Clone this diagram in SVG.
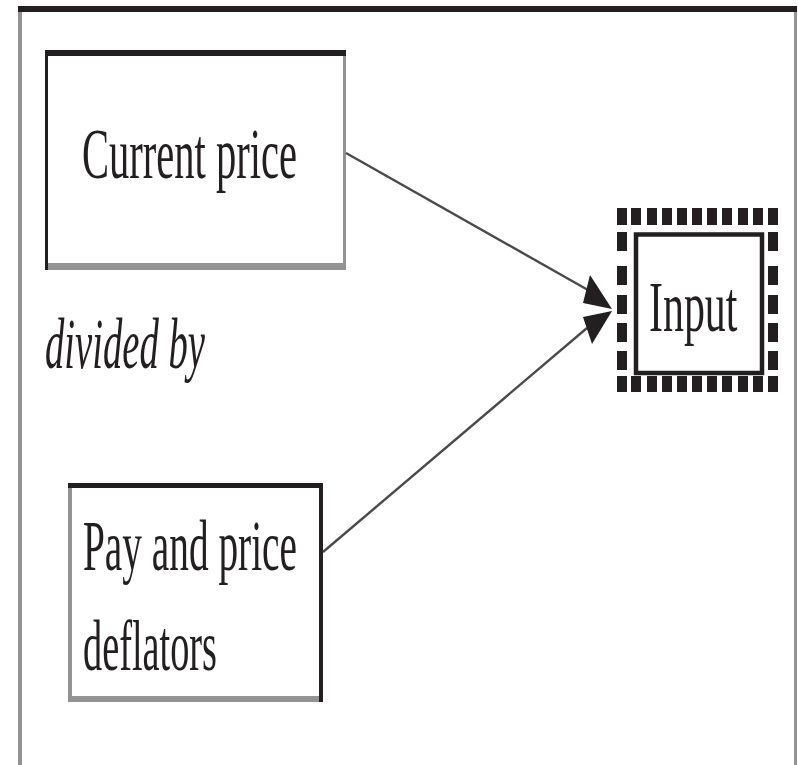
<svg xmlns="http://www.w3.org/2000/svg" width="798" height="765" viewBox="0 0 798 765">
<style>
.k{fill:#231f20}
.g{fill:#939393}
.t{font-family:"Liberation Serif","Times New Roman",serif;font-size:72px;fill:#231f20}
.it{font-style:italic}
.ln{stroke:#4a4a4a;stroke-width:2.4;fill:none}
</style>
<rect width="798" height="765" fill="#ffffff"/>
<g id="frame">
<rect class="k" x="18" y="6" width="779" height="6"/>
<rect class="g" x="18" y="12" width="4" height="753"/>
<rect class="g" x="794" y="12" width="3" height="753"/>
</g>
<g id="node-current">
<rect class="k" x="45" y="50" width="301" height="6"/>
<rect class="k" x="45" y="50" width="3" height="220"/>
<rect class="g" x="343" y="56" width="3" height="214"/>
<rect class="g" x="48" y="263" width="295" height="7"/>
<text class="t" x="82" y="178" textLength="215" lengthAdjust="spacingAndGlyphs">Current price</text>
</g>
<g id="label-divided">
<text class="t it" x="45" y="368" textLength="160" lengthAdjust="spacingAndGlyphs">divided by</text>
</g>
<g id="node-pay">
<rect class="k" x="68" y="483" width="255" height="5"/>
<rect class="g" x="68" y="488" width="4" height="214"/>
<rect class="k" x="319" y="483" width="4" height="219"/>
<rect class="g" x="68" y="696" width="251" height="6"/>
<text class="t" x="83" y="570" textLength="214" lengthAdjust="spacingAndGlyphs">Pay and price</text>
<text class="t" x="83" y="670" textLength="134" lengthAdjust="spacingAndGlyphs">deflators</text>
</g>
<g id="node-input">
<g class="k">
<rect x="617" y="208" width="10" height="17"/><rect x="631" y="208" width="10" height="17"/><rect x="647" y="208" width="10" height="17"/><rect x="662" y="208" width="10" height="17"/><rect x="677" y="208" width="10" height="17"/><rect x="692" y="208" width="10" height="17"/><rect x="707" y="208" width="10" height="17"/><rect x="722" y="208" width="10" height="17"/><rect x="738" y="208" width="10" height="17"/><rect x="753" y="208" width="10" height="17"/><rect x="768" y="208" width="10" height="17"/>
<rect x="617" y="376" width="10" height="16"/><rect x="631" y="376" width="10" height="16"/><rect x="647" y="376" width="10" height="16"/><rect x="662" y="376" width="10" height="16"/><rect x="677" y="376" width="10" height="16"/><rect x="692" y="376" width="10" height="16"/><rect x="707" y="376" width="10" height="16"/><rect x="722" y="376" width="10" height="16"/><rect x="738" y="376" width="10" height="16"/><rect x="753" y="376" width="10" height="16"/><rect x="768" y="376" width="10" height="16"/>
<rect x="617" y="232" width="10" height="19"/><rect x="617" y="266" width="10" height="19"/><rect x="617" y="295" width="10" height="19"/><rect x="617" y="323" width="10" height="19"/><rect x="617" y="351" width="10" height="19"/>
<rect x="768" y="232" width="10" height="19"/><rect x="768" y="266" width="10" height="19"/><rect x="768" y="295" width="10" height="19"/><rect x="768" y="323" width="10" height="19"/><rect x="768" y="351" width="10" height="19"/>
</g>
<rect x="636" y="234.5" width="126" height="138.5" fill="none" stroke="#231f20" stroke-width="4.5"/>
<text class="t" transform="translate(649,331) scale(0.582,1)" x="0" y="0" font-size="70">Input</text>
</g>
<g id="connectors">
<line class="ln" x1="346" y1="153" x2="588" y2="290"/>
<line class="ln" x1="323" y1="552" x2="587" y2="328"/>
<polygon class="k" points="590,275 612,309 583,303"/>
<polygon class="k" points="612,311 592,344 583,317"/>
</g>
</svg>
